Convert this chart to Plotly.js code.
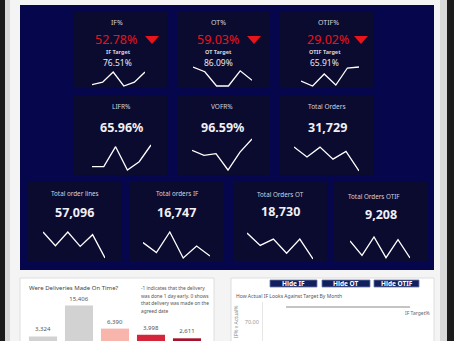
<!DOCTYPE html>
<html><head><meta charset="utf-8">
<script src="https://cdn.plot.ly/plotly-3.0.1.min.js"></script>
<style>html,body{margin:0;padding:0;background:#f4f4f4;}#c{width:454px;height:341px;}</style>
</head><body><div id="c"></div>
<script>
// ---------- data ----------
const months = ['Jan','Feb','Mar','Apr','May','Jun'];
const ifPct = [51.0, 52.0, 56.0, 50.5, 52.0, 56.0];
const otPct = [64.0, 61.5, 54.0, 54.0, 62.0, 57.0];
const otifPct = [26.0, 23.5, 29.5, 24.0, 32.5, 33.0];
const lifrPct = [63.0, 63.0, 69.0, 62.0, 64.5, 69.5];
const vofrPct = [96.6, 96.3, 96.4, 95.4, 96.5, 97.3];
const totalOrders = [5605, 5230, 5600, 5150, 5440, 4704];
const totalOrderLines = [10139, 9237, 10139, 9193, 9963, 8425];
const totalOrdersIF = [2914, 2682, 3162, 2554, 2834, 2601];
const totalOrdersOT = [3402, 3106, 3258, 2922, 3258, 2784];
const totalOrdersOTIF = [1620, 1448, 1668, 1420, 1636, 1416];
const ifTargetByMonth = [76.51, 76.51, 76.51, 76.51, 76.51, 76.51];

const kpiLabels = ['IF%','OT%','OTIF%','LIFR%','VOFR%','Total Orders','Total order lines','Total orders IF','Total Orders OT','Total Orders OTIF'];
const kpiValues = ['52.78%','59.03%','29.02%','65.96%','96.59%','31,729','57,096','16,747','18,730','9,208'];
const targetLabels = ['IF Target','OT Target','OTIF Target'];
const targetValues = ['76.51%','86.09%','65.91%'];

const deliveryDays = ['-1','0','1','2','3'];
const deliveryCounts = [3324, 15406, 6390, 3998, 2611];
const barColors = ['#d2d2d2','#d2d2d2','#f8b5ac','#d4263b','#a3132e'];

const buttonLabels = ['Hide IF','Hide OT','Hide OTIF'];
const noteLines = ['-1 indicates that the delivery','was done 1 day early. 0 shows','that delivery was made on the','agreed date'];

// ---------- helpers ----------
const W = 454, H = 341;
const X = p => p / W;
const Y = p => 1 - p / H;
const FONT = 'Noto Sans, Open Sans, sans-serif';

const shapes = [];
const annotations = [];
function rect(x0, y0, x1, y1, fill, line) {
  shapes.push({type:'rect', xref:'paper', yref:'paper', x0:X(x0), x1:X(x1), y0:Y(y1), y1:Y(y0),
    fillcolor:fill, line: line ? {color:line, width:1} : {width:0}, layer:'below'});
}
function ann(text, x, y, size, color, o) {
  o = o || {};
  annotations.push(Object.assign({text:text, xref:'paper', yref:'paper', x:X(x), y:Y(y),
    xanchor:'center', yanchor:'middle', showarrow:false,
    font:{family:FONT, size:size, color:color, weight:o.weight || 'normal'}}, o.extra || {}));
}
function tri(cx, y0, y1, half) {
  shapes.push({type:'path', xref:'paper', yref:'paper',
    path:`M ${X(cx-half)} ${Y(y0)} L ${X(cx+half)} ${Y(y0)} L ${X(cx)} ${Y(y1)} Z`,
    fillcolor:'#e8141c', line:{width:0}});
}

// ---------- backgrounds ----------
rect(0, 0, 5, 341, '#1b1b1b');
rect(447, 0, 454, 341, '#1b1b1b');
rect(5, 0, 10, 341, '#d9d9d9');
rect(440, 0, 447, 341, '#d9d9d9');
rect(20, 5, 434, 270, '#06064c');
const tiles = [
  [74,12,167,88],[177,12,270,88],[280,12,373,88],
  [74,95,167,175],[177,95,270,175],[280,95,373,175],
  [28,182,121,262],[130,182,224,262],[234,182,327,262],[334,182,428,262]
];
tiles.forEach(t => rect(t[0], t[1], t[2], t[3], '#0b0a2f'));
rect(20, 278, 214, 345, '#ffffff', '#dedede');
rect(231, 278, 434, 345, '#ffffff', '#dedede');

// ---------- KPI text ----------
const labC = '#d4d4dc';
const r1 = [[117,116,118,117,152],[218,218,218,218,254],[328,328,325,324,361]];
r1.forEach((p, i) => {
  ann(kpiLabels[i], p[0], 23, 7, labC);
  ann(kpiValues[i], p[1], 39, 12.5, '#e8141c');
  ann(targetLabels[i], p[2], 52, 5.5, labC, {weight:'bold'});
  ann(targetValues[i], p[3], 62, 8.5, '#e8e8ee');
  tri(p[4], 36, 44, 7);
});
[[121],[222],[327]].forEach((p, i) => {
  ann(kpiLabels[3+i], p[0], 107, 6.5, labC);
  ann(kpiValues[3+i], p[0], 127, 12.5, '#f0f0f4', {weight:'bold'});
});
[[75,74,193,212],[177,176,193,212],[280,280,194,211],[374,381,196,214]].forEach((p, i) => {
  ann(kpiLabels[6+i], p[0], p[2], 6.3, labC);
  ann(kpiValues[6+i], p[1], p[3], 12.5, '#f0f0f4', {weight:'bold'});
});

// ---------- sparklines ----------
const sparkData = [ifPct, otPct, otifPct, lifrPct, vofrPct, totalOrders, totalOrderLines, totalOrdersIF, totalOrdersOT, totalOrdersOTIF];
const sparkBoxes = [
  [92,145,72,86],[193,252,67,86],[301,359,67,86],
  [92,151,145,170],[192,252,139,170],[294,359,147,171],
  [43,105,232,258],[143,210,232,258],[247,313,233,259],[350,410,237,258]
];
const traces = [];
const layout = {
  width:W, height:H, margin:{l:0,r:0,t:0,b:0}, paper_bgcolor:'#f4f4f4', plot_bgcolor:'rgba(0,0,0,0)',
  showlegend:false, shapes:shapes, annotations:annotations, bargap:0.22
};
sparkData.forEach((arr, i) => {
  const n = i + 1, s = n === 1 ? '' : String(n);
  const b = sparkBoxes[i];
  const mn = Math.min(...arr), mx = Math.max(...arr);
  const h = b[3] - b[2], pad = 1.5;
  const d = (mx - mn) * pad / h;
  traces.push({x:months, y:arr, xaxis:'x'+s, yaxis:'y'+s, type:'scatter', mode:'lines',
    line:{color:'#ffffff', width:1.3}, hoverinfo:'skip'});
  layout['xaxis'+s] = {domain:[X(b[0]), X(b[1])], type:'category', range:[0, months.length-1], visible:false, fixedrange:true, anchor:'y'+s};
  layout['yaxis'+s] = {domain:[Y(b[3]+pad), Y(b[2]-pad)], range:[mn-d, mx+d], visible:false, fixedrange:true, anchor:'x'+s};
});

// ---------- bar chart (bottom left) ----------
traces.push({type:'bar', x:deliveryDays, y:deliveryCounts, xaxis:'x11', yaxis:'y11',
  marker:{color:barColors}, texttemplate:'%{y:,}', textposition:'outside', cliponaxis:false,
  textfont:{family:FONT, size:6, color:'#555'}, hoverinfo:'skip'});
layout.xaxis11 = {domain:[X(25), X(205)], type:'category', range:[-0.5, 4.5], showticklabels:false, showgrid:false, zeroline:false, showline:false, anchor:'y11', fixedrange:true};
layout.yaxis11 = {domain:[0, Y(290)], range:[1560, 21450], visible:false, anchor:'x11', fixedrange:true};
ann('Were Deliveries Made On Time?', 27, 288, 6, '#444', {extra:{xanchor:'left'}});
noteLines.forEach((t, i) => ann(t, 139, 288 + i*7.6, 4.8, '#555', {extra:{xanchor:'left'}}));

// ---------- IF vs target (bottom right) ----------
traces.push({type:'scatter', mode:'lines', x:months, y:ifTargetByMonth, xaxis:'x12', yaxis:'y12',
  line:{color:'#c4c4c4', width:2}, hoverinfo:'skip'});
traces.push({type:'scatter', mode:'lines', x:months, y:ifPct, xaxis:'x12', yaxis:'y12',
  line:{color:'#1b2a6b', width:2}, hoverinfo:'skip'});
layout.xaxis12 = {domain:[X(263), X(422)], type:'category', range:[-0.93, 5.48], visible:false, anchor:'y12', fixedrange:true};
layout.yaxis12 = {domain:[0, Y(302)], range:[61.7, 78.7], tickvals:[60,70,80], tickformat:'.2f', ticksuffix:'%',
  tickfont:{family:FONT, size:5.5, color:'#999'}, showgrid:false, zeroline:false, showline:true, linecolor:'#e6e6e6',
  ticks:'', ticklabelstandoff:2, anchor:'x12', fixedrange:true};
ann('How Actual IF Looks Against Target By Month', 234, 296, 5, '#555', {extra:{xanchor:'left'}});
ann('IF Target%', 432, 313, 5, '#666', {extra:{xanchor:'right'}});
ann('IF% v Actual%', 236, 304, 5, '#888', {extra:{textangle:-90, yanchor:'top'}});
[[270,317],[322,370],[374,419]].forEach((b, i) => {
  shapes.push({type:'rect', xref:'paper', yref:'paper', x0:X(b[0]), x1:X(b[1]), y0:Y(287), y1:Y(280),
    fillcolor:'#13205c', line:{color:'#6b78a8', width:0.8}});
  ann(buttonLabels[i], (b[0]+b[1])/2, 283.5, 6.5, '#ffffff', {weight:'bold'});
});

Plotly.newPlot('c', traces, layout, {staticPlot:true, displayModeBar:false});
</script>
</body></html>
